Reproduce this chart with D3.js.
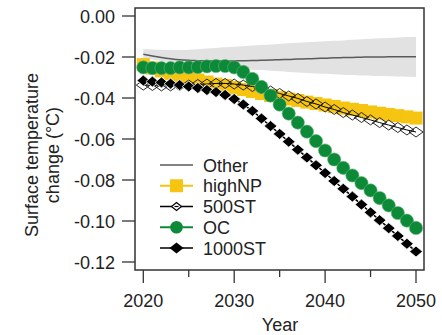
<!DOCTYPE html>
<html>
<head>
<meta charset="utf-8">
<script src="https://cdn.jsdelivr.net/npm/d3@7"></script>
<style>
  html, body { margin: 0; padding: 0; background: #fff; }
  svg { display: block; font-family: "Liberation Sans", Arial, sans-serif; }
</style>
</head>
<body>
<svg id="chart" width="442" height="335"></svg>
<script>
// Years 2020–2050, one value per year
const years = d3.range(2020, 2051);

// "Other" scenario: central estimate and spread
const otherMean = [-0.0187,-0.0195,-0.0202,-0.0208,-0.0213,-0.0216,-0.0218,-0.0220,-0.0220,-0.0220,
  -0.0219,-0.0218,-0.0217,-0.0216,-0.0215,-0.0213,-0.0212,-0.0210,-0.0209,-0.0207,
  -0.0206,-0.0204,-0.0203,-0.0202,-0.0201,-0.0200,-0.0200,-0.0199,-0.0199,-0.0199,-0.0199];
const otherUpper = [-0.0162,-0.0163,-0.0165,-0.0166,-0.0166,-0.0165,-0.0162,-0.0159,-0.0156,-0.0153,
  -0.0150,-0.0147,-0.0144,-0.0141,-0.0139,-0.0136,-0.0133,-0.0131,-0.0128,-0.0126,
  -0.0123,-0.0121,-0.0119,-0.0116,-0.0114,-0.0111,-0.0109,-0.0107,-0.0105,-0.0103,-0.0101];
const otherLower = [-0.0205,-0.0212,-0.0220,-0.0226,-0.0232,-0.0237,-0.0241,-0.0245,-0.0249,-0.0252,
  -0.0256,-0.0259,-0.0262,-0.0264,-0.0267,-0.0270,-0.0273,-0.0275,-0.0278,-0.0280,
  -0.0282,-0.0284,-0.0286,-0.0288,-0.0290,-0.0291,-0.0293,-0.0294,-0.0295,-0.0296,-0.0297];

const highNP = [-0.0237,-0.0254,-0.0268,-0.0280,-0.0293,-0.0302,-0.0312,-0.0322,-0.0332,-0.0339,
  -0.0349,-0.0359,-0.0368,-0.0378,-0.0388,-0.0398,-0.0405,-0.0412,-0.0420,-0.0427,
  -0.0434,-0.0441,-0.0449,-0.0455,-0.0461,-0.0468,-0.0474,-0.0480,-0.0486,-0.0492,-0.0498];

const st500 = [-0.0337,-0.0339,-0.0341,-0.0341,-0.0339,-0.0337,-0.0334,-0.0332,-0.0329,-0.0329,
  -0.0332,-0.0337,-0.0344,-0.0354,-0.0366,-0.0378,-0.0390,-0.0402,-0.0417,-0.0429,
  -0.0444,-0.0456,-0.0471,-0.0483,-0.0495,-0.0507,-0.0520,-0.0532,-0.0544,-0.0556,-0.0566];

const oc = [-0.0251,-0.0254,-0.0254,-0.0254,-0.0251,-0.0251,-0.0249,-0.0246,-0.0244,-0.0244,
  -0.0251,-0.0273,-0.0307,-0.0346,-0.0388,-0.0432,-0.0476,-0.0520,-0.0564,-0.0610,
  -0.0656,-0.0700,-0.0741,-0.0778,-0.0815,-0.0851,-0.0888,-0.0924,-0.0961,-0.0998,-0.1034];

const st1000 = [-0.0315,-0.0320,-0.0324,-0.0330,-0.0337,-0.0344,-0.0351,-0.0361,-0.0371,-0.0385,
  -0.0405,-0.0432,-0.0463,-0.0500,-0.0537,-0.0575,-0.0613,-0.0652,-0.0690,-0.0728,
  -0.0766,-0.0805,-0.0843,-0.0881,-0.0920,-0.0958,-0.0996,-0.1035,-0.1073,-0.1111,-0.1149];

const yTicks = [0, -0.02, -0.04, -0.06, -0.08, -0.10, -0.12];
const xMajor = [2020, 2030, 2040, 2050];
const xMinor = [2025, 2035, 2045];
const legendLabels = ["Other", "highNP", "500ST", "OC", "1000ST"];

const COL_YELLOW = "#f6c511";
const COL_GREEN = "#0c8a38";
const COL_BAND = "#e2e2e2";
const COL_OTHER = "#5a5a5a";
const COL_TEXT = "#222";
const COL_AXIS = "#333";

const svg = d3.select("#chart");

const box = { left: 135, right: 424, top: 8, bottom: 270 };
const x = d3.scaleLinear().domain([2020, 2050]).range([143.3, 416]);
const y = d3.scaleLinear().domain([-0.12, 0]).range([262, 16]);

const plot = svg.append("g");

// Spread of the "Other" scenario
const band = d3.area()
  .x((d, i) => x(years[i]))
  .y0((d, i) => y(otherLower[i]))
  .y1((d, i) => y(otherUpper[i]))
  .curve(d3.curveMonotoneX);
plot.append("path").datum(years).attr("d", band).attr("fill", COL_BAND);

const lineOf = vals => d3.line()
  .x((d, i) => x(years[i]))
  .y((d, i) => y(vals[i]))
  .curve(d3.curveMonotoneX)(years);

plot.append("path").attr("d", lineOf(otherMean))
  .attr("fill", "none").attr("stroke", COL_OTHER).attr("stroke-width", 1.5);

// highNP: yellow squares
plot.append("path").attr("d", lineOf(highNP))
  .attr("fill", "none").attr("stroke", COL_YELLOW).attr("stroke-width", 2);
plot.append("g").selectAll("rect").data(highNP).join("rect")
  .attr("x", (d, i) => x(years[i]) - 6.5).attr("y", d => y(d) - 6.5)
  .attr("width", 13).attr("height", 13).attr("fill", COL_YELLOW);

// 500ST: open diamonds
const diamond = (hw, hh) => `M0,${-hh}L${hw},0L0,${hh}L${-hw},0Z`;
plot.append("path").attr("d", lineOf(st500))
  .attr("fill", "none").attr("stroke", "#000").attr("stroke-width", 1);
plot.append("g").selectAll("path").data(st500).join("path")
  .attr("transform", (d, i) => `translate(${x(years[i])},${y(d)})`)
  .attr("d", diamond(7, 5))
  .attr("fill", "none").attr("stroke", "#111").attr("stroke-width", 0.9);

// OC: green circles
plot.append("path").attr("d", lineOf(oc))
  .attr("fill", "none").attr("stroke", COL_GREEN).attr("stroke-width", 2);
plot.append("g").selectAll("circle").data(oc).join("circle")
  .attr("cx", (d, i) => x(years[i])).attr("cy", d => y(d)).attr("r", 6.6)
  .attr("fill", COL_GREEN).attr("stroke", "#5fb47a").attr("stroke-width", 0.6);

// 1000ST: filled black diamonds
plot.append("path").attr("d", lineOf(st1000))
  .attr("fill", "none").attr("stroke", "#000").attr("stroke-width", 1.5);
plot.append("g").selectAll("path").data(st1000).join("path")
  .attr("transform", (d, i) => `translate(${x(years[i])},${y(d)})`)
  .attr("d", diamond(6.5, 5.5))
  .attr("fill", "#000").attr("stroke", "#fff").attr("stroke-width", 0.8);

// Frame
svg.append("rect")
  .attr("x", box.left).attr("y", box.top)
  .attr("width", box.right - box.left).attr("height", box.bottom - box.top)
  .attr("fill", "none").attr("stroke", COL_AXIS).attr("stroke-width", 1.5);

// Y axis
const yAxis = svg.append("g");
yAxis.selectAll("line").data(yTicks).join("line")
  .attr("x1", 122).attr("x2", box.left)
  .attr("y1", d => y(d)).attr("y2", d => y(d))
  .attr("stroke", COL_AXIS).attr("stroke-width", 1.3);
yAxis.selectAll("text").data(yTicks).join("text")
  .attr("x", 115).attr("y", d => y(d) + 7)
  .attr("text-anchor", "end").attr("font-size", 18).attr("fill", COL_TEXT)
  .text(d => d3.format(".2f")(d).replace("−", "-"));

// X axis
const xAxis = svg.append("g");
xAxis.selectAll("line.major").data(xMajor).join("line").attr("class", "major")
  .attr("x1", d => x(d)).attr("x2", d => x(d))
  .attr("y1", box.bottom).attr("y2", 283)
  .attr("stroke", COL_AXIS).attr("stroke-width", 1.3);
xAxis.selectAll("line.minor").data(xMinor).join("line").attr("class", "minor")
  .attr("x1", d => x(d)).attr("x2", d => x(d))
  .attr("y1", box.bottom).attr("y2", 277)
  .attr("stroke", COL_AXIS).attr("stroke-width", 1.3);
xAxis.selectAll("text").data(xMajor).join("text")
  .attr("x", d => x(d)).attr("y", 307)
  .attr("text-anchor", "middle").attr("font-size", 18).attr("fill", COL_TEXT)
  .text(d => d);

// Axis titles
svg.append("text").attr("x", 280).attr("y", 331)
  .attr("text-anchor", "middle").attr("font-size", 18).attr("fill", COL_TEXT)
  .text("Year");
const yTitle = svg.append("text")
  .attr("transform", "translate(0,155) rotate(-90)")
  .attr("text-anchor", "middle").attr("font-size", 18).attr("fill", COL_TEXT);
yTitle.append("tspan").attr("x", 0).attr("y", 38).text("Surface temperature");
yTitle.append("tspan").attr("x", 0).attr("y", 59).text("change (°C)");

// Legend
const legend = svg.append("g");
const rowY = i => 165 + i * 20.75;
const lx0 = 160, lx1 = 193, lxm = (lx0 + lx1) / 2;
const legendStyle = [
  { stroke: COL_OTHER, width: 1.5 },
  { stroke: COL_YELLOW, width: 2 },
  { stroke: "#000", width: 1.5 },
  { stroke: COL_GREEN, width: 2 },
  { stroke: "#000", width: 1.5 }
];
legendLabels.forEach((lab, i) => {
  const g = legend.append("g").attr("transform", `translate(0,${rowY(i)})`);
  g.append("line").attr("x1", lx0).attr("x2", lx1)
    .attr("stroke", legendStyle[i].stroke).attr("stroke-width", legendStyle[i].width);
  if (i === 1) {
    g.append("rect").attr("x", lxm - 6.5).attr("y", -6.5).attr("width", 13).attr("height", 13)
      .attr("fill", COL_YELLOW);
  } else if (i === 2) {
    g.append("path").attr("transform", `translate(${lxm},0)`).attr("d", diamond(5, 4))
      .attr("fill", "#fff").attr("stroke", "#000").attr("stroke-width", 1.2);
    g.append("line").attr("x1", lxm - 2).attr("x2", lxm + 2)
      .attr("stroke", "#000").attr("stroke-width", 1.2);
  } else if (i === 3) {
    g.append("circle").attr("cx", lxm).attr("cy", 0).attr("r", 6.3).attr("fill", COL_GREEN);
  } else if (i === 4) {
    g.append("path").attr("transform", `translate(${lxm},0)`).attr("d", diamond(7, 5.5))
      .attr("fill", "#000");
  }
  g.append("text").attr("x", 203).attr("y", 6.5)
    .attr("font-size", 18).attr("fill", COL_TEXT).text(lab);
});
</script>
</body>
</html>
